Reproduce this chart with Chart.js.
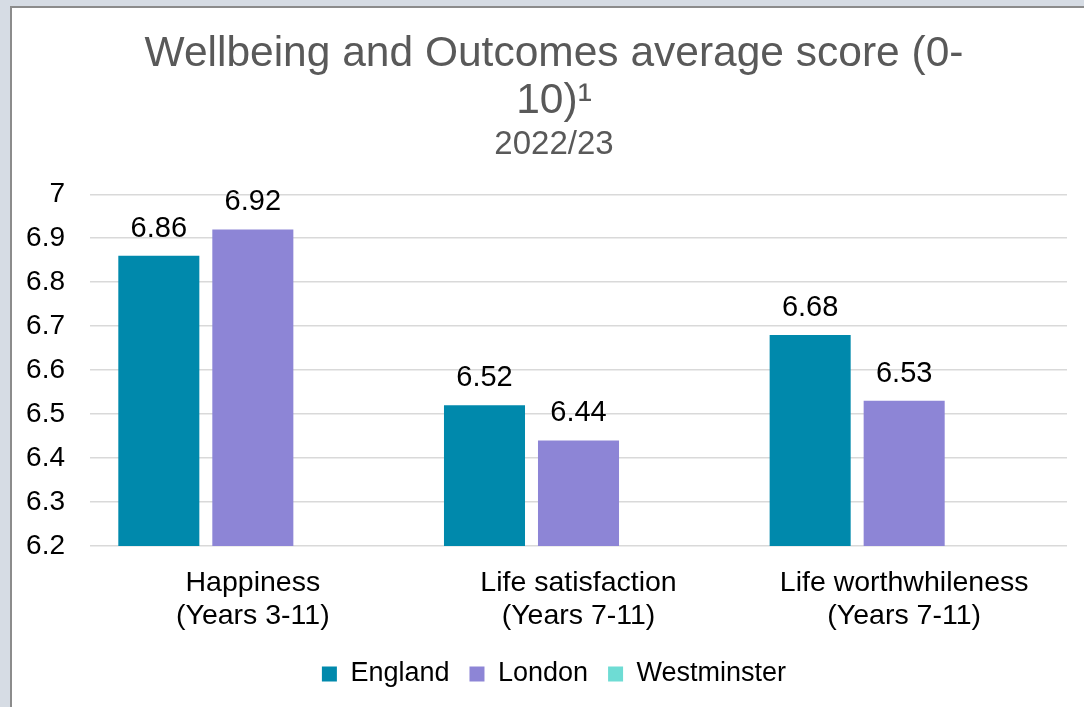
<!DOCTYPE html>
<html>
<head>
<meta charset="utf-8">
<script src="https://cdn.jsdelivr.net/npm/chart.js@4.4.1/dist/chart.umd.min.js"></script>
<style>
  html, body { margin: 0; padding: 0; background: #D6DCE4; overflow: hidden; }
  body { width: 1084px; height: 707px; position: relative; }
  #frame {
    position: absolute; left: 10px; top: 6px; width: 1100px; height: 720px;
    background: #ffffff; border-left: 2px solid #8c8c8c; border-top: 2px solid #8c8c8c;
  }
  #wrap { position: absolute; left: 0; top: 0; width: 1086px; height: 699px; }
</style>
</head>
<body>
<div id="frame"><div id="wrap"><canvas id="chart"></canvas></div></div>
<script>
const categories = [
  ["Happiness", "(Years 3-11)"],
  ["Life satisfaction", "(Years 7-11)"],
  ["Life worthwhileness", "(Years 7-11)"]
];
const seriesNames = ["England", "London", "Westminster"];
const englandValues = [6.86, 6.52, 6.68];
const londonValues = [6.92, 6.44, 6.53];
const westminsterValues = [null, null, null];
const seriesColors = ["#0089AC", "#8D85D6", "#6EDCD4"];

const FONT = "'Liberation Sans', Arial, sans-serif";

// Writes each bar's value just above it
const valueLabels = {
  id: "valueLabels",
  afterDatasetsDraw(chart) {
    const ctx = chart.ctx;
    ctx.save();
    ctx.font = "29px " + FONT;
    ctx.fillStyle = "#000000";
    ctx.textAlign = "center";
    ctx.textBaseline = "alphabetic";
    chart.data.datasets.forEach((ds, i) => {
      const meta = chart.getDatasetMeta(i);
      meta.data.forEach((bar, j) => {
        const v = ds.data[j];
        if (v === null || v === undefined) return;
        ctx.fillText(v.toFixed(2), bar.x, bar.y - 19);
      });
    });
    ctx.restore();
  }
};

// Centres the title, subtitle and legend a little right of the plot's midpoint
const TitleElement = Chart.Title._element;
const LegendElement = Chart.Legend._element;
const headerShift = {
  id: "headerShift",
  afterLayout(chart) {
    chart.boxes.forEach(box => {
      if (box instanceof TitleElement || box instanceof LegendElement) {
        box.left += 14.5;
        box.right += 14.5;
      }
    });
  }
};

new Chart(document.getElementById("chart"), {
  type: "bar",
  data: {
    labels: categories,
    datasets: [englandValues, londonValues, westminsterValues].map((vals, i) => ({
      label: seriesNames[i],
      data: vals,
      backgroundColor: seriesColors[i],
      borderWidth: 0,
      categoryPercentage: 0.866,
      barPercentage: 0.862
    }))
  },
  options: {
    responsive: true,
    maintainAspectRatio: false,
    animation: false,
    layout: { padding: { left: 0, right: 31, top: 22, bottom: 9.5 } },
    plugins: {
      title: {
        display: true,
        text: ["Wellbeing and Outcomes average score (0-", "10)\u00B9"],
        color: "#595959",
        font: { family: FONT, size: 42.5, weight: "normal", lineHeight: 1.12 },
        padding: { top: 0, bottom: 0 }
      },
      subtitle: {
        display: true,
        text: "2022/23",
        color: "#595959",
        font: { family: FONT, size: 33, weight: "normal", lineHeight: 1.2 },
        padding: { top: 0, bottom: 29.5 }
      },
      legend: {
        position: "bottom",
        labels: {
          color: "#000000",
          font: { family: FONT, size: 27 },
          boxWidth: 15,
          boxHeight: 15,
          padding: 20
        }
      },
      tooltip: { enabled: false }
    },
    scales: {
      x: {
        grid: { display: false, drawTicks: false },
        border: { display: false },
        ticks: {
          color: "#000000",
          font: { family: FONT, size: 28.5, lineHeight: 1.16 },
          padding: 21,
          maxRotation: 0
        },
        afterFit(scale) { scale.height -= 13.5; }
      },
      y: {
        min: 6.2,
        max: 7,
        grid: { color: "#D9D9D9", lineWidth: 1.5, drawTicks: false },
        border: { display: false },
        ticks: {
          stepSize: 0.1,
          color: "#000000",
          font: { family: FONT, size: 28 },
          padding: 25,
          callback: v => Number(v.toFixed(1)).toString()
        },
        afterFit(scale) { scale.width = 78; }
      }
    }
  },
  plugins: [valueLabels, headerShift]
});
</script>
</body>
</html>
